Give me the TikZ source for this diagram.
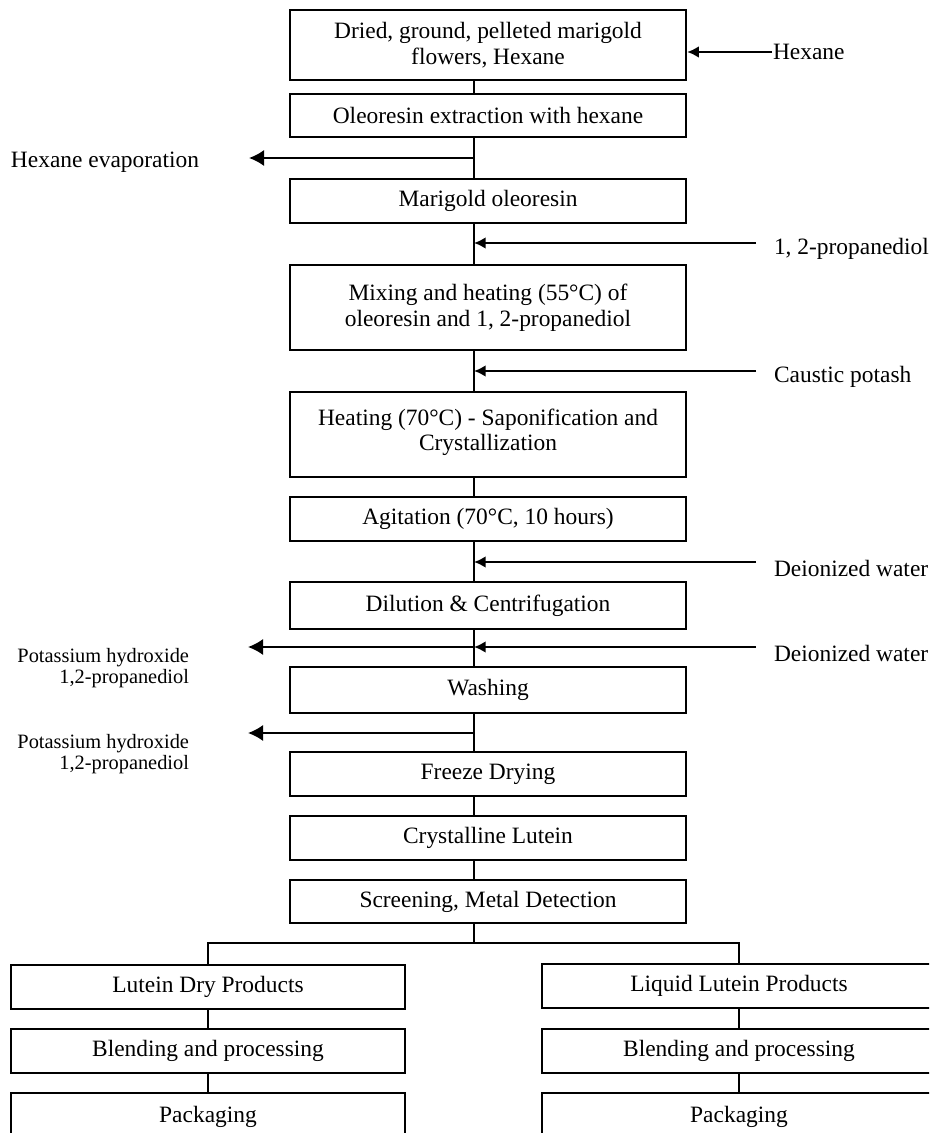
\documentclass[tikz,border=0pt]{standalone}
\usepackage{fontspec}
\setmainfont{Liberation Serif}
\usetikzlibrary{arrows.meta}
\begin{document}
\begin{tikzpicture}[x=.03cm, y=-.03cm, line width=1.7pt, >={Latex[length=10pt,width=10pt]},
    outarrow/.style={-{Latex[length=13pt,width=14pt]}},
    box/.style={draw, line width=2pt, minimum width=11.88cm, align=center, inner sep=0pt, font=\fontsize{20}{22}\selectfont},
    sidebox/.style={box, minimum width=11.82cm, minimum height=1.32cm},
    lbl/.style={inner sep=0pt, font=\fontsize{20}{22}\selectfont},
    small/.style={inner sep=0pt, align=right, font=\fontsize{17.4}{18.5}\selectfont}]
\clip (0,0) rectangle (929,1133);
\coordinate (sp) at (474,0);
\node[box, minimum height=2.1cm] (dried) at (488,45) {Dried, ground, pelleted marigold\\flowers, Hexane};
\node[box, minimum height=1.29cm] (extr) at (488,115.5) {Oleoresin extraction with hexane};
\node[box, minimum height=1.32cm] (olr) at (488,201) {Marigold oleoresin};
\node[box, minimum height=2.55cm] (mix) at (488,307.5) {Mixing and heating (55°C) of\\oleoresin and 1, 2-propanediol};
\node[box, minimum height=2.55cm] (sapo) at (488,434.5) {Heating (70°C) - Saponification and\\Crystallization\\[-14pt]};
\node[box, minimum height=1.32cm] (agit) at (488,519) {Agitation (70°C, 10 hours)};
\node[box, minimum height=1.41cm] (dil) at (488,605.5) {Dilution \& Centrifugation};
\node[box, minimum height=1.38cm] (wash) at (488,690) {Washing};
\node[box, minimum height=1.32cm] (freeze) at (488,774) {Freeze Drying};
\node[box, minimum height=1.32cm] (cryst) at (488,838) {Crystalline Lutein};
\node[box, minimum height=1.29cm] (screen) at (488,901.5) {Screening, Metal Detection};
\node[sidebox] (dry) at (208,987) {Lutein Dry Products};
\node[sidebox] (blendL) at (208,1051) {Blending and processing};
\node[sidebox, minimum height=1.41cm] (packL) at (208,1116.5) {Packaging};
\node[sidebox] (liq) at (739,986) {Liquid Lutein Products};
\node[sidebox] (blendR) at (739,1051) {Blending and processing};
\node[sidebox, minimum height=1.41cm] (packR) at (739,1116.5) {Packaging};

\foreach \a/\b in {dried/extr, extr/olr, olr/mix, mix/sapo, sapo/agit, agit/dil, dil/wash, wash/freeze, freeze/cryst, cryst/screen}
    \draw (\a.south -| sp) -- (\b.north -| sp);
\coordinate (fork) at (474,943);
\draw (screen.south -| sp) -- (fork);
\draw (dry.north) -- (dry.north |- fork) -- (liq.north |- fork) -- (liq.north);
\draw (dry.south) -- (blendL.north);
\draw (blendL.south) -- (packL.north);
\draw (liq.south) -- (blendR.north);
\draw (blendR.south) -- (packR.north);

% feeds coming in from the right
\node[lbl, anchor=west] (hex) at (772,52) {Hexane};
\draw[->] (hex.west) -- (hex.west -| dried.east);
\coordinate (in1) at (756,243);
\node[lbl, anchor=west] (prop) at (773,249) {1, 2-propanediol};
\draw[->] (in1) -- (in1 -| sp);
\coordinate (in2) at (756,371);
\node[lbl, anchor=west] (koh) at (773,377) {Caustic potash};
\draw[->] (in2) -- (in2 -| sp);
\coordinate (in3) at (756,562);
\node[lbl, anchor=west] (dw1) at (773,568) {Deionized water};
\draw[->] (in3) -- (in3 -| sp);
\coordinate (in4) at (756,647);
\node[lbl, anchor=west] (dw2) at (773,653) {Deionized water};
\draw[->] (in4) -- (in4 -| sp);

% streams leaving to the left
\node[lbl, anchor=west] (evap) at (10,162) {Hexane evaporation};
\coordinate (ev) at (474,158);
\draw[outarrow] (ev) -- ++(-225,0);
\node[small, anchor=north east] (out1) at (190,647) {Potassium hydroxide\\1,2-propanediol};
\draw[outarrow, shorten >=1.74cm] (out1.north -| sp) -- (out1.north east);
\node[small, anchor=north east] (out2) at (190,733) {Potassium hydroxide\\1,2-propanediol};
\draw[outarrow, shorten >=1.74cm] (out2.north -| sp) -- (out2.north east);

\end{tikzpicture}
\end{document}
